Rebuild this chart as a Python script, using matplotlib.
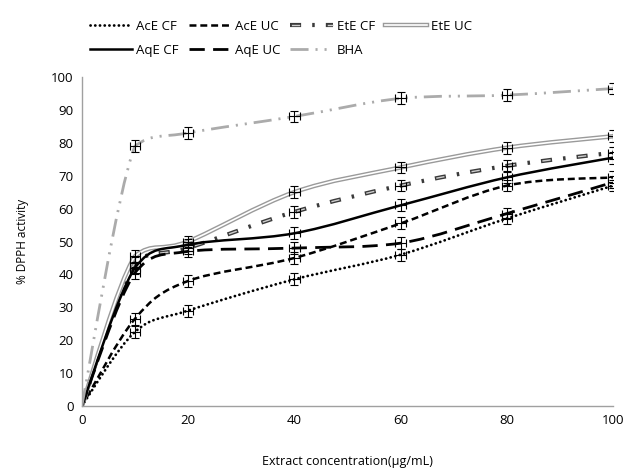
import numpy as np
import matplotlib.pyplot as plt
from matplotlib.path import Path
from matplotlib.patches import PathPatch
from matplotlib.lines import Line2D
from matplotlib.legend_handler import HandlerTuple

plt.rcParams['font.family'] = ['Open Sans', 'DejaVu Sans']
plt.rcParams['lines.scale_dashes'] = False

# concentrations (µg/mL)
conc = [0, 10, 20, 40, 60, 80, 100]

# % DPPH activity
ace_cf = [0, 22.5, 29, 38.5, 46, 57, 67]
ace_uc = [0, 26.5, 38, 45, 55.5, 67, 69.5]
ete_cf = [0, 43.5, 48, 59, 67, 73, 77]
ete_uc = [0, 45.5, 50, 65, 72.5, 78.5, 82]
aqe_cf = [0, 42, 49, 52.5, 61, 69.5, 75.5]
aqe_uc = [0, 40.5, 47, 48, 49.5, 58.5, 68]
bha = [0, 79, 83, 88, 93.5, 94.5, 96.5]

err_y = 1.8
err_x = 1.0


def smooth_path(x, y):
    # cubic bezier through the points (excel-like smoothed line)
    x = np.asarray(x, float)
    y = np.asarray(y, float)
    verts = [(x[0], y[0])]
    codes = [Path.MOVETO]
    n = len(x)
    for i in range(n - 1):
        x0, y0 = (x[i - 1], y[i - 1]) if i > 0 else (x[i], y[i])
        x3, y3 = (x[i + 2], y[i + 2]) if i + 2 < n else (x[i + 1], y[i + 1])
        t = 1 / 6
        lo, hi = min(y[i], y[i + 1]), max(y[i], y[i + 1])
        c1y = np.clip(y[i] + (y[i + 1] - y0) * t, lo, hi)
        c2y = np.clip(y[i + 1] - (y3 - y[i]) * t, lo, hi)
        c1 = (x[i] + (x[i + 1] - x0) * t, c1y)
        c2 = (x[i + 1] - (x3 - x[i]) * t, c2y)
        verts += [c1, c2, (x[i + 1], y[i + 1])]
        codes += [Path.CURVE4] * 3
    return Path(verts, codes)


fig = plt.figure(figsize=(6.29, 4.71), dpi=100)
ax = fig.add_axes([0.130, 0.138, 0.845, 0.6985])

# dash patterns in points
series = [
    ('AcE CF', ace_cf, [dict(color='black', lw=2.0, ls=(0, (0.1, 3.3)), cap='round')]),
    ('AcE UC', ace_uc, [dict(color='black', lw=1.8, ls=(0, (5.0, 2.8)), cap='butt')]),
    ('EtE CF', ete_cf, [dict(color='#3a3a3a', lw=3.0, ls=(0, (8, 8, 1.8, 8)), cap='butt'),
                        dict(color='#cfcfcf', lw=1.0, ls=(24.8, (6, 19.8)), cap='butt')]),
    ('EtE UC', ete_uc, [dict(color='#9a9a9a', lw=3.2, ls='-', cap='butt'),
                        dict(color='white', lw=1.2, ls='-', cap='butt')]),
    ('AqE CF', aqe_cf, [dict(color='black', lw=1.8, ls='-', cap='butt')]),
    ('AqE UC', aqe_uc, [dict(color='black', lw=2.0, ls=(0, (11, 6)), cap='butt')]),
    ('BHA', bha, [dict(color='#ababab', lw=2.0, ls=(0, (13, 5, 1.5, 5, 1.5, 5)), cap='butt')]),
]

handles = {}
for name, vals, styles in series:
    for st in styles:
        patch = PathPatch(smooth_path(conc, vals), facecolor='none',
                          edgecolor=st['color'], lw=st['lw'], linestyle=st['ls'],
                          capstyle=st['cap'], zorder=2)
        ax.add_patch(patch)
    ax.errorbar(conc[1:], vals[1:], xerr=err_x, yerr=err_y, fmt='none',
                ecolor='black', elinewidth=0.8, capsize=3, capthick=0.8, zorder=3)
    hl = [Line2D([], [], color=st['color'], lw=st['lw'], linestyle=st['ls'],
                 dash_capstyle=st['cap'])
          for st in styles]
    handles[name] = tuple(hl) if len(hl) > 1 else hl[0]

order = ['AcE CF', 'AqE CF', 'AcE UC', 'AqE UC', 'EtE CF', 'BHA', 'EtE UC']
leg = ax.legend([handles[k] for k in order], order, ncol=4,
                loc='lower center', bbox_to_anchor=(0.375, 1.025),
                frameon=False, fontsize=9.5, handlelength=3.2,
                handletextpad=0.3, columnspacing=0.75, labelspacing=0.85,
                handler_map={tuple: HandlerTuple(ndivide=1, pad=0)})

ax.set_xlim(0, 100)
ax.set_ylim(0, 100)
ax.set_xticks([0, 20, 40, 60, 80, 100])
ax.set_yticks(range(0, 101, 10))
ax.tick_params(length=0, labelsize=9.5, pad=6)
for s in ['top', 'right']:
    ax.spines[s].set_visible(False)
for s in ['left', 'bottom']:
    ax.spines[s].set_color('#a0a0a0')
    ax.spines[s].set_linewidth(1.0)

ax.set_xlabel('Extract concentration(\u00b5g/mL)', fontsize=9, labelpad=20)
ax.set_ylabel('% DPPH activity', fontsize=8.5, labelpad=16)

fig.savefig('out.png', dpi=100)
